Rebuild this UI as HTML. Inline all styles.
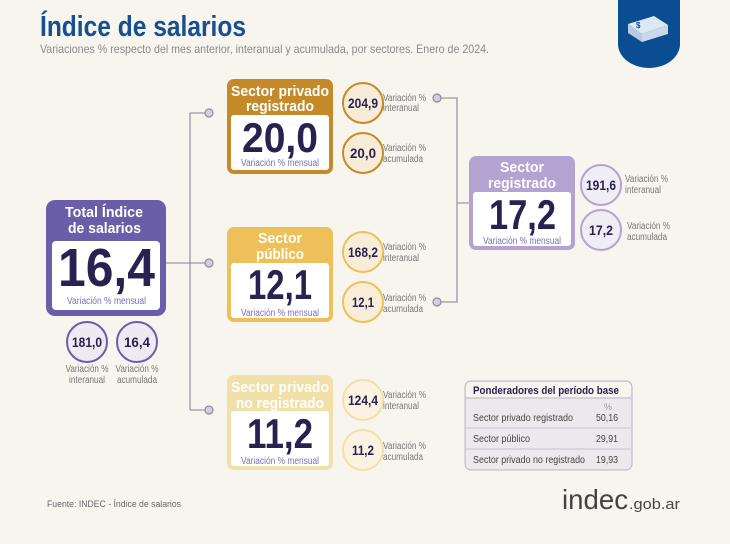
<!DOCTYPE html>
<html><head><meta charset="utf-8"><style>
html,body{margin:0;padding:0;background:#f8f5ee}
svg{display:block}
text{font-family:"Liberation Sans",sans-serif}
.b{font-weight:bold}
</style></head><body>
<svg width="730" height="544" viewBox="0 0 730 544">
<rect width="730" height="544" fill="#f8f5ee"/>
<text x="40" y="36" font-size="29" font-weight="bold" fill="#17508f" textLength="206" lengthAdjust="spacingAndGlyphs">Índice de salarios</text>
<text x="40" y="53" font-size="12" fill="#8a8a8a" textLength="449" lengthAdjust="spacingAndGlyphs">Variaciones % respecto del mes anterior, interanual y acumulada, por sectores. Enero de 2024.</text>
<g>
<path d="M618 0H680V44A31 24 0 0 1 618 44Z" fill="#0b4d92"/>
<path d="M628 24l26-8 14 9-26 9z" fill="#dde8f3"/><path d="M628 24v9l14 9v-8z" fill="#b7cbe0"/><path d="M642 34v8l26-8v-9z" fill="#c9d9ea"/>
<text x="636" y="28" font-size="8" fill="#0b4d92" class="b">$</text>
</g>
<g stroke="#9a96a4" stroke-width="1.3" fill="none">
<path d="M166 263H190M190 113V410M190 113H205M190 263H205M190 410H205"/>
<path d="M441 98H457V302H441M457 203H469"/>
</g>
<g fill="#d3cfdc" stroke="#8e8a99" stroke-width="1.2">
<circle cx="209" cy="113" r="4"/>
<circle cx="209" cy="263" r="4"/>
<circle cx="209" cy="410" r="4"/>
<circle cx="437" cy="98" r="4"/>
<circle cx="437" cy="302" r="4"/>
</g>

<g>
<rect x="46" y="200" width="120" height="116" rx="9" fill="#6a5ea8"/>
<rect x="52" y="241" width="108" height="69" rx="4" fill="#fff"/>
<text x="65" y="217" font-size="15" class="b" fill="#fff" textLength="78" lengthAdjust="spacingAndGlyphs">Total Índice</text>
<text x="68" y="233" font-size="15" class="b" fill="#fff" textLength="73" lengthAdjust="spacingAndGlyphs">de salarios</text>
<text x="58" y="286" font-size="54" class="b" fill="#2a2150" textLength="97" lengthAdjust="spacingAndGlyphs">16,4</text>
<text x="67" y="304" font-size="10" fill="#7c6fb5" textLength="79" lengthAdjust="spacingAndGlyphs">Variación % mensual</text>
</g>
<g>
<circle cx="87" cy="342" r="20" fill="#eeeaf2" stroke="#6a5ea8" stroke-width="2"/>
<text x="72" y="347" font-size="14" class="b" fill="#2a2150" textLength="30" lengthAdjust="spacingAndGlyphs">181,0</text>
<text x="87" y="372" font-size="10" fill="#777" text-anchor="middle" textLength="43" lengthAdjust="spacingAndGlyphs">Variación %</text>
<text x="87" y="383" font-size="10" fill="#777" text-anchor="middle" textLength="36" lengthAdjust="spacingAndGlyphs">interanual</text>
</g>
<g>
<circle cx="137" cy="342" r="20" fill="#eeeaf2" stroke="#6a5ea8" stroke-width="2"/>
<text x="124" y="347" font-size="14" class="b" fill="#2a2150" textLength="26" lengthAdjust="spacingAndGlyphs">16,4</text>
<text x="137" y="372" font-size="10" fill="#777" text-anchor="middle" textLength="43" lengthAdjust="spacingAndGlyphs">Variación %</text>
<text x="137" y="383" font-size="10" fill="#777" text-anchor="middle" textLength="40" lengthAdjust="spacingAndGlyphs">acumulada</text>
</g>

<g>
<rect x="227" y="79" width="106" height="95" rx="7" fill="#c48a2a"/>
<rect x="231" y="115" width="98" height="55" rx="3" fill="#fff"/>
<text x="231" y="96" font-size="15" class="b" fill="#fff" textLength="98" lengthAdjust="spacingAndGlyphs">Sector privado</text>
<text x="246" y="111" font-size="15" class="b" fill="#fff" textLength="68" lengthAdjust="spacingAndGlyphs">registrado</text>
<text x="242" y="152" font-size="42" class="b" fill="#2a2150" textLength="76" lengthAdjust="spacingAndGlyphs">20,0</text>
<text x="241" y="166" font-size="10" fill="#7c6fb5" textLength="78" lengthAdjust="spacingAndGlyphs">Variación % mensual</text>
</g>
<g>
<rect x="227" y="227" width="106" height="95" rx="7" fill="#eec05a"/>
<rect x="231" y="263" width="98" height="55" rx="3" fill="#fff"/>
<text x="280" y="243" font-size="15" class="b" fill="#fff" text-anchor="middle" textLength="44" lengthAdjust="spacingAndGlyphs">Sector</text>
<text x="280" y="259" font-size="15" class="b" fill="#fff" text-anchor="middle" textLength="48" lengthAdjust="spacingAndGlyphs">público</text>
<text x="248" y="299" font-size="42" class="b" fill="#2a2150" textLength="64" lengthAdjust="spacingAndGlyphs">12,1</text>
<text x="241" y="316" font-size="10" fill="#7c6fb5" textLength="78" lengthAdjust="spacingAndGlyphs">Variación % mensual</text>
</g>
<g>
<rect x="227" y="375" width="106" height="95" rx="7" fill="#f1e0a8"/>
<rect x="231" y="411" width="98" height="55" rx="3" fill="#fff"/>
<text x="231" y="392" font-size="15" class="b" fill="#fff" textLength="98" lengthAdjust="spacingAndGlyphs">Sector privado</text>
<text x="236" y="408" font-size="15" class="b" fill="#fff" textLength="88" lengthAdjust="spacingAndGlyphs">no registrado</text>
<text x="247" y="448" font-size="42" class="b" fill="#2a2150" textLength="66" lengthAdjust="spacingAndGlyphs">11,2</text>
<text x="241" y="464" font-size="10" fill="#7c6fb5" textLength="78" lengthAdjust="spacingAndGlyphs">Variación % mensual</text>
</g>
<g>
<rect x="469" y="156" width="106" height="94" rx="7" fill="#b3a3d3"/>
<rect x="473" y="192" width="98" height="54" rx="3" fill="#fff"/>
<text x="522" y="172" font-size="15" class="b" fill="#fff" text-anchor="middle" textLength="44" lengthAdjust="spacingAndGlyphs">Sector</text>
<text x="522" y="188" font-size="15" class="b" fill="#fff" text-anchor="middle" textLength="68" lengthAdjust="spacingAndGlyphs">registrado</text>
<text x="489" y="229" font-size="42" class="b" fill="#2a2150" textLength="67" lengthAdjust="spacingAndGlyphs">17,2</text>
<text x="483" y="244" font-size="10" fill="#7c6fb5" textLength="78" lengthAdjust="spacingAndGlyphs">Variación % mensual</text>
</g>

<g font-size="10" fill="#777">
<g><circle cx="363" cy="103" r="20" fill="#f6ecd8" stroke="#c48a2a" stroke-width="2"/><text x="363" y="108" font-size="14" class="b" fill="#2a2150" text-anchor="middle" textLength="30" lengthAdjust="spacingAndGlyphs">204,9</text><text x="383" y="101" textLength="43" lengthAdjust="spacingAndGlyphs">Variación %</text><text x="383" y="111" textLength="36" lengthAdjust="spacingAndGlyphs">interanual</text></g>
<g><circle cx="363" cy="153" r="20" fill="#f6ecd8" stroke="#c48a2a" stroke-width="2"/><text x="363" y="158" font-size="14" class="b" fill="#2a2150" text-anchor="middle" textLength="26" lengthAdjust="spacingAndGlyphs">20,0</text><text x="383" y="151" textLength="43" lengthAdjust="spacingAndGlyphs">Variación %</text><text x="383" y="162" textLength="40" lengthAdjust="spacingAndGlyphs">acumulada</text></g>
<g><circle cx="363" cy="252" r="20" fill="#f8eed8" stroke="#eec05a" stroke-width="2"/><text x="363" y="257" font-size="14" class="b" fill="#2a2150" text-anchor="middle" textLength="30" lengthAdjust="spacingAndGlyphs">168,2</text><text x="383" y="250" textLength="43" lengthAdjust="spacingAndGlyphs">Variación %</text><text x="383" y="261" textLength="36" lengthAdjust="spacingAndGlyphs">interanual</text></g>
<g><circle cx="363" cy="302" r="20" fill="#f8eed8" stroke="#eec05a" stroke-width="2"/><text x="363" y="307" font-size="14" class="b" fill="#2a2150" text-anchor="middle" textLength="22" lengthAdjust="spacingAndGlyphs">12,1</text><text x="383" y="301" textLength="43" lengthAdjust="spacingAndGlyphs">Variación %</text><text x="383" y="312" textLength="40" lengthAdjust="spacingAndGlyphs">acumulada</text></g>
<g><circle cx="363" cy="400" r="20" fill="#faf3e2" stroke="#f1e0a8" stroke-width="2"/><text x="363" y="405" font-size="14" class="b" fill="#2a2150" text-anchor="middle" textLength="30" lengthAdjust="spacingAndGlyphs">124,4</text><text x="383" y="398" textLength="43" lengthAdjust="spacingAndGlyphs">Variación %</text><text x="383" y="409" textLength="36" lengthAdjust="spacingAndGlyphs">interanual</text></g>
<g><circle cx="363" cy="450" r="20" fill="#faf3e2" stroke="#f1e0a8" stroke-width="2"/><text x="363" y="455" font-size="14" class="b" fill="#2a2150" text-anchor="middle" textLength="22" lengthAdjust="spacingAndGlyphs">11,2</text><text x="383" y="449" textLength="43" lengthAdjust="spacingAndGlyphs">Variación %</text><text x="383" y="460" textLength="40" lengthAdjust="spacingAndGlyphs">acumulada</text></g>
<g><circle cx="601" cy="185" r="20" fill="#f1edf4" stroke="#b3a3d3" stroke-width="2"/><text x="601" y="190" font-size="14" class="b" fill="#2a2150" text-anchor="middle" textLength="30" lengthAdjust="spacingAndGlyphs">191,6</text><text x="625" y="182" textLength="43" lengthAdjust="spacingAndGlyphs">Variación %</text><text x="625" y="193" textLength="36" lengthAdjust="spacingAndGlyphs">interanual</text></g>
<g><circle cx="601" cy="230" r="20" fill="#f1edf4" stroke="#b3a3d3" stroke-width="2"/><text x="601" y="235" font-size="14" class="b" fill="#2a2150" text-anchor="middle" textLength="24" lengthAdjust="spacingAndGlyphs">17,2</text><text x="627" y="229" textLength="43" lengthAdjust="spacingAndGlyphs">Variación %</text><text x="627" y="240" textLength="40" lengthAdjust="spacingAndGlyphs">acumulada</text></g>
</g>

<g>
<rect x="465" y="381" width="167" height="89" rx="6" fill="#ece9ee" stroke="#b8b3c4" stroke-width="1"/>
<rect x="466" y="382" width="165" height="16" rx="5" fill="#f8f5ee"/>
<line x1="466" y1="398" x2="631" y2="398" stroke="#b8b3c4"/>
<text x="473" y="394" font-size="11" class="b" fill="#2a2150" textLength="146" lengthAdjust="spacingAndGlyphs">Ponderadores del período base</text>
<text x="608" y="410" font-size="9" fill="#999" text-anchor="middle">%</text>
<g font-size="10" fill="#444">
<text x="473" y="421" textLength="100" lengthAdjust="spacingAndGlyphs">Sector privado registrado</text><text x="618" y="421" text-anchor="end" textLength="22" lengthAdjust="spacingAndGlyphs">50,16</text>
<line x1="466" y1="428" x2="631" y2="428" stroke="#c9c4d2"/>
<text x="473" y="442" textLength="57" lengthAdjust="spacingAndGlyphs">Sector público</text><text x="618" y="442" text-anchor="end" textLength="22" lengthAdjust="spacingAndGlyphs">29,91</text>
<line x1="466" y1="449" x2="631" y2="449" stroke="#c9c4d2"/>
<text x="473" y="463" textLength="112" lengthAdjust="spacingAndGlyphs">Sector privado no registrado</text><text x="618" y="463" text-anchor="end" textLength="22" lengthAdjust="spacingAndGlyphs">19,93</text>
</g></g>

<text x="47" y="507" font-size="9" fill="#666" textLength="134" lengthAdjust="spacingAndGlyphs">Fuente: INDEC - Índice de salarios</text>
<g>
<text x="562" y="509" font-size="28" fill="#444" textLength="66" lengthAdjust="spacingAndGlyphs">indec</text>
<text x="629" y="509" font-size="15" fill="#444" textLength="51" lengthAdjust="spacingAndGlyphs">.gob.ar</text>
</g>
</svg>
</body></html>
